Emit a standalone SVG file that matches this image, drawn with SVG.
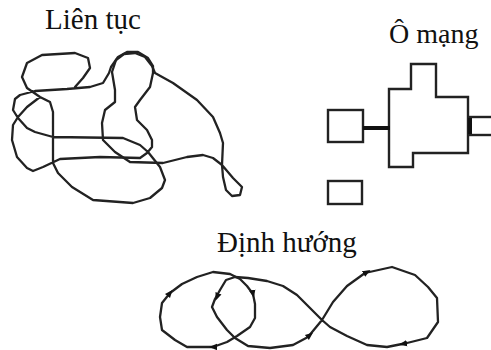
<svg xmlns="http://www.w3.org/2000/svg" width="491" height="350" viewBox="0 0 491 350">
  <style>
    .label { font-family: "Liberation Serif", "Times New Roman", serif; fill: #111; }
    .line { fill: none; stroke: #222; stroke-width: 2.3; stroke-linejoin: round; stroke-linecap: round; }
    .cell { fill: none; stroke: #222; stroke-width: 2.4; stroke-linejoin: miter; }
    .bar { stroke: #111; stroke-width: 4; }
    .dir { fill: none; stroke: none; }
  </style>
  <defs>
    <marker id="arr" viewBox="0 0 10 10" refX="5" refY="5" markerWidth="8" markerHeight="8" markerUnits="userSpaceOnUse" orient="auto">
      <path d="M0,1 L10,5 L0,9 Z" fill="#111"/>
    </marker>
  </defs>
  <rect width="491" height="350" fill="#fff"/>

  <!-- continuous free-hand region -->
  <g id="lien-tuc">
    <text class="label" x="45" y="29" font-size="29">Liên tục</text>
    <path class="line" d="M75,87 L83,78 L90,68 L88,58 L75,53 L42,55 L27,63 L22,77 L27,88 L40,97 L50,102 L53,112 L53,163 L58,173 L72,187 L93,200 L133,203 L150,198 L162,188 L165,180 L160,167 L148,152 L140,145 L123,138 L53,137 L35,132 L27,128 L18,118 L13,110 L15,99 L20,95 L35,91 L67,89 L90,87 L103,83 L109,73 L111,67 L118,57 L127,52 L138,52 L148,58 L153,66 L153,73 L150,87 L140,100 L135,107 L137,120 L147,130 L152,140 L152,147 L147,153 L140,158 L100,157 L60,159 L43,167 L33,171 L27,168 L17,157 L12,140 L13,125 L18,117 L27,107 L40,97"/>
    <path class="line" d="M112,72 L115,90 L115,102 L105,110 L102,123 L103,140 L115,152 L130,162 L163,163 L187,157 L203,155 L213,158 L222,165 L233,178 L242,187 L240,195 L232,196 L226,190 L223,177 L222,165 L223,143 L220,133 L213,117 L197,100 L173,83 L155,73 L152,66 L145,57 L135,53 L124,54 L116,60 Z"/>
  </g>

  <!-- cell mesh region -->
  <g id="o-mang">
    <text class="label" x="389" y="43" font-size="28">Ô mạng</text>
    <rect class="cell" x="328" y="110" width="35" height="32"/>
    <path class="cell" d="M389,89 H411 V64 H436 V97 H468 V153 H413 V167 H389 Z"/>
    <rect class="cell" x="470" y="117" width="30" height="18"/>
    <rect class="cell" x="328" y="181" width="34" height="23"/>
  </g>

  <!-- oriented loops -->
  <g id="dinh-huong">
    <text class="label" x="217" y="252" font-size="29">Định hướng</text>
    <path class="line" d="M162,303 L170,293 L182,284 L197,277 L213,272 L230,274 L240,279 L247,286 L253,294 L255,304 L255,318 L250,327 L237,336 L227,342 L213,347 L187,347 L175,340 L162,330 L160,317 Z"/>
    <path class="line" d="M322,320 L333,302 L347,286 L365,273 L392,267 L415,275 L428,287 L437,298 L438,322 L427,338 L407,343 L387,347 L367,345 L347,336 L330,327 L322,320 L307,305 L297,295 L283,286 L267,281 L248,278 L235,277 L226,280 L220,290 L215,299 L212,307 L217,317 L227,330 L235,338 L248,346 L270,348 L293,345 L308,337 Z"/>
  </g>

  <!-- connectors: mesh links and direction arrowheads -->
  <g id="connectors">
    <line class="bar" x1="363" y1="128" x2="390" y2="128"/>
    <line class="bar" x1="470" y1="118" x2="470" y2="134"/>
    <path class="dir" d="M166,298 L170,293" marker-end="url(#arr)"/>
    <path class="dir" d="M252,289 L253,294" marker-end="url(#arr)"/>
    <path class="dir" d="M218,347 L213,347" marker-end="url(#arr)"/>
    <path class="dir" d="M219,292 L217,297" marker-end="url(#arr)"/>
    <path class="dir" d="M305,339 L310,335" marker-end="url(#arr)"/>
    <path class="dir" d="M362,275 L367,272" marker-end="url(#arr)"/>
    <path class="dir" d="M408,343 L403,344" marker-end="url(#arr)"/>
  </g>
</svg>
